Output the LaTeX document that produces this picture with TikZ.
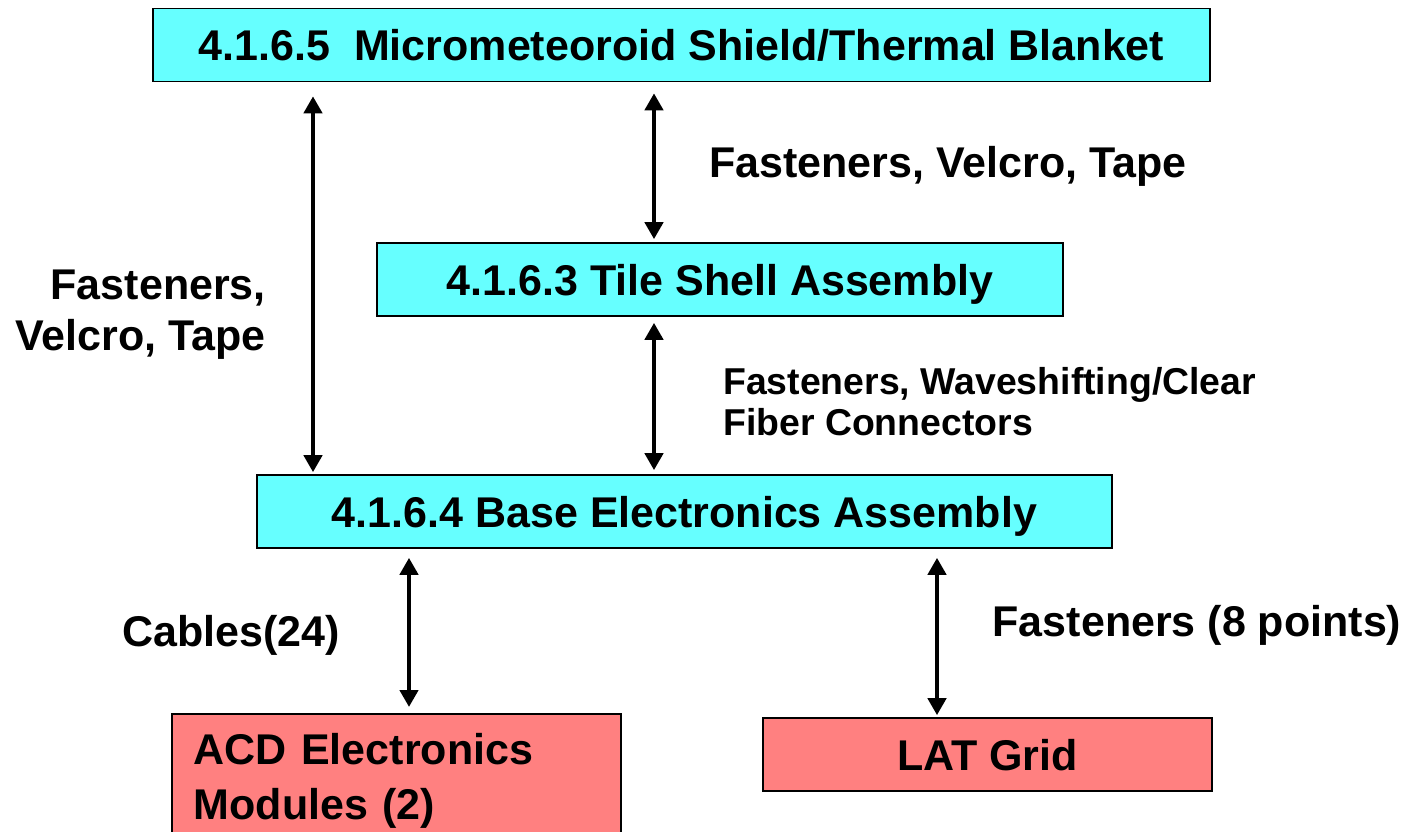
\documentclass[tikz,border=0pt]{standalone}
\usepackage{fontspec}
\setmainfont{Liberation Sans}
\usetikzlibrary{arrows.meta}

\definecolor{boxcyan}{HTML}{66FFFF}
\definecolor{boxred}{HTML}{FF8080}

\begin{document}
\begin{tikzpicture}[x=1pt,y=-1pt,
    bigfont/.style={font=\fontsize{43}{51}\selectfont\bfseries},
    cyanbox/.style={draw,line width=1.6pt,fill=boxcyan,bigfont,minimum height=73pt,
        text height=32pt,text depth=0pt},
    redbox/.style={draw,line width=1.6pt,fill=boxred,bigfont},
    lbl/.style={inner sep=0pt,bigfont},
    link/.style={line width=4.8pt,{Triangle[length=17pt,width=18pt]}-{Triangle[length=17pt,width=18pt]}}]

    % Frame of the page
    \useasboundingbox (0,0) rectangle (1410,832);
    \clip (0,0) rectangle (1410,832);

    % Assemblies
    \node[cyanbox,minimum width=1057pt] (blanket) at (681.5,45)
        {4.1.6.5\ \ Micrometeoroid Shield/Thermal Blanket};
    \node[cyanbox,minimum width=686pt] (tileshell) at (720,279.5)
        {4.1.6.3 Tile Shell Assembly};
    \node[cyanbox,minimum width=855pt] (base) at (684.5,511.5)
        {4.1.6.4 Base Electronics Assembly};

    % Neighbouring hardware
    \node[redbox,anchor=north west,minimum width=449pt,minimum height=135pt,
        text width=405pt,align=left,font=\fontsize{43}{55}\selectfont\bfseries]
        (acd) at (171,713) {ACD Electronics\\Modules (2)};
    \node[redbox,minimum width=449pt,minimum height=73pt,text height=32pt,text depth=0pt]
        (latgrid) at (987.5,754.5) {LAT Grid};

    % Where the arrows run
    \coordinate (xleft) at (313,0);
    \coordinate (xmid) at (654,0);
    \coordinate (xacd) at (409,0);
    \coordinate (xlat) at (937,0);

    % Interfaces
    \draw[link,shorten <=14pt,shorten >=2pt] (blanket.south -| xleft) -- (base.north -| xleft);
    \draw[link,shorten <=11pt,shorten >=3pt] (blanket.south -| xmid) -- (tileshell.north -| xmid);
    \draw[link,shorten <=6pt,shorten >=4pt] (tileshell.south -| xmid) -- (base.north -| xmid);
    \draw[link,shorten <=9pt,shorten >=6pt] (base.south -| xacd) -- (acd.north -| xacd);
    \draw[link,shorten <=9pt,shorten >=2pt] (base.south -| xlat) -- (latgrid.north -| xlat);

    % Interface labels
    \node[lbl] (toplbl) at (948,166) {Fasteners, Velcro, Tape};
    \node[lbl,anchor=east,align=right] (leftlbl) at (266,315) {Fasteners,\\Velcro, Tape};
    \node[lbl,anchor=west,align=left,font=\fontsize{37.4}{41}\selectfont\bfseries]
        (fiberlbl) at (723,402) {Fasteners, Waveshifting/Clear\\Fiber Connectors};
    \node[lbl] (cablelbl) at (231,635) {Cables(24)};
    \node[lbl] (latlbl) at (1197,625) {Fasteners (8 points)};
\end{tikzpicture}
\end{document}
